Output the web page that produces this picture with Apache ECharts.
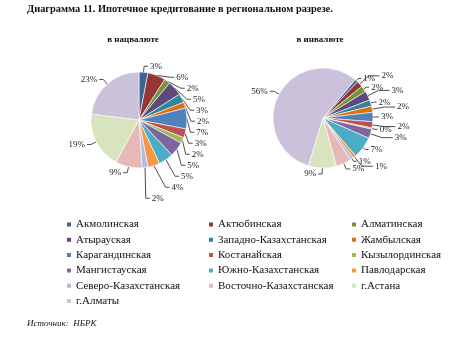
<!DOCTYPE html>
<html><head><meta charset="utf-8">
<script src="https://cdn.jsdelivr.net/npm/echarts@6/dist/echarts.min.js"></script>
<style>html,body{margin:0;padding:0;background:#fff}#c{width:472px;height:338px}</style>
</head><body><div id="c"></div>
<script>
var regions = ['Акмолинская','Актюбинская','Алматинская','Атырауская','Западно-Казахстанская','Жамбылская','Карагандинская','Костанайская','Кызылординская','Мангистауская','Южно-Казахстанская','Павлодарская','Северо-Казахстанская','Восточно-Казахстанская','г.Астана','г.Алматы'];
var natCurrency = [3,6,2,5,3,2,7,3,2,5,5,4,2,9,19,23];
var foreignCurrency = [1,2,2,3,2,2,3,2,0.4,3,7,1,1,5,9,56];
var colors = ['#3a6494','#943634','#77933c','#5f497a','#31859c','#e46c0a','#4f81bd','#c0504d','#9bbb59','#8064a2','#4bacc6','#f79646','#aebbe2','#e6b9b8','#d7e4bd','#ccc1da'];
var F = 'Liberation Serif, Times New Roman, serif';
function mk(vals, stagger){
  return regions.map(function(n,i){
    var d = {name:n, value:vals[i]};
    if (stagger && i < 13) d.labelLine = (i % 2) ? {length:12, length2:11} : {length:3, length2:3};
    return d;
  });
}
function pie(center, radius, vals, start, stagger){
  return {type:'pie', center:center, radius:radius, startAngle:start, clockwise:true, data:mk(vals, stagger),
    avoidLabelOverlap:!stagger, minShowLabelAngle:0,
    labelLayout:{hideOverlap:false},
    itemStyle:{borderColor:'#fff',borderWidth:0.6},
    label:{formatter:function(p){return Math.round(p.percent)+'%';}, fontFamily:F, fontSize:9, lineHeight:8, color:'#222', distanceToLabelLine:2},
    labelLine:{length:6,length2:4,lineStyle:{color:'#222',width:0.8}},
    emphasis:{disabled:true}, animation:false};
}
function leg(items, left){
  return {data:items, orient:'vertical', left:left, top:219, itemWidth:6, itemHeight:6, itemGap:4.3, icon:'rect', padding:0,
    textStyle:{fontFamily:F, fontSize:11, color:'#111', padding:[0,0,0,-1]}, selectedMode:false};
}
var col1=[], col2=[], col3=[];
regions.forEach(function(r,i){[col1,col2,col3][i%3].push(r);});
var chart = echarts.init(document.getElementById('c'));
chart.setOption({
  color: colors,
  animation:false,
  title:[
    {text:'Диаграмма 11. Ипотечное кредитование в региональном разрезе.', left:27, top:4, padding:0, textStyle:{fontFamily:F, fontSize:10.4, fontWeight:'bold', color:'#111'}},
    {text:'в нацвалюте', left:133, top:35, padding:0, textAlign:'center', textStyle:{fontFamily:F, fontSize:9, fontWeight:'bold', color:'#111'}},
    {text:'в инвалюте', left:320, top:35, padding:0, textAlign:'center', textStyle:{fontFamily:F, fontSize:9, fontWeight:'bold', color:'#111'}},
    {text:'Источник:  НБРК', left:27, top:319, padding:0, textStyle:{fontFamily:F, fontSize:9, fontStyle:'italic', fontWeight:'normal', color:'#111'}}
  ],
  legend:[leg(col1,65), leg(col2,207), leg(col3,350)],
  series:[pie(['139','120'],48,natCurrency,90,false), pie(['323','118'],50,foreignCurrency,50,true)]
});
</script></body></html>
